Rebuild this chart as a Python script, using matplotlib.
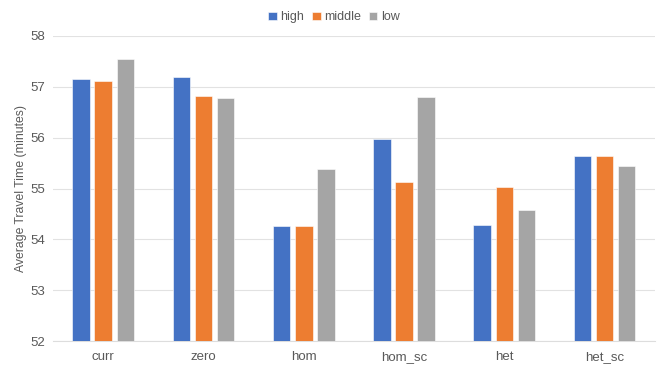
import matplotlib
matplotlib.use("Agg")
import matplotlib.pyplot as plt
import numpy as np

plt.rcParams['font.family'] = ['Liberation Sans', 'DejaVu Sans']

categories = ["curr", "zero", "hom", "hom_sc", "het", "het_sc"]
high = [57.15, 57.19, 54.26, 55.97, 54.29, 55.64]
middle = [57.12, 56.82, 54.27, 55.12, 55.02, 55.64]
low = [57.55, 56.78, 55.39, 56.80, 54.57, 55.45]
series_names = ["high", "middle", "low"]
colors = ["#4472C4", "#ED7D31", "#A5A5A5"]

fig = plt.figure(figsize=(6.64, 3.70), dpi=100)
ax = fig.add_axes([0.080, 0.078, 0.906, 0.825])

x = np.arange(len(categories))
w = 0.175
step = 0.22
for i, (vals, name, c) in enumerate(zip([high, middle, low], series_names, colors)):
    ax.bar(x + (i - 1) * step, np.array(vals) - 52, bottom=52, width=w, color=c,
           label=name, zorder=3, edgecolor='white', linewidth=0.4)

ax.set_ylim(52, 58)
ax.set_xlim(-0.5, len(categories) - 0.5)
ax.set_yticks(np.arange(52, 59, 1))
ax.set_xticks(x)
ax.set_xticklabels(categories)
ax.grid(axis='y', color='#E2E2E2', linewidth=0.8, zorder=0)
for s in ['top', 'right', 'left']:
    ax.spines[s].set_visible(False)
ax.spines['bottom'].set_color('#DDDDDD')
ax.spines['bottom'].set_linewidth(0.8)
ax.tick_params(axis='both', length=0, colors='#595959', labelsize=9.5)
ax.tick_params(axis='x', pad=7)
ax.tick_params(axis='y', pad=6)
ax.set_ylabel("Average Travel Time (minutes)", color='#595959', fontsize=8.8, labelpad=2)

fig.legend(loc='upper center', bbox_to_anchor=(0.503, 1.0), ncol=3, frameon=False,
           fontsize=9, handlelength=0.7, handleheight=0.7, handletextpad=0.3,
           columnspacing=0.6, labelcolor='#595959')

fig.savefig("out.png", dpi=100)
